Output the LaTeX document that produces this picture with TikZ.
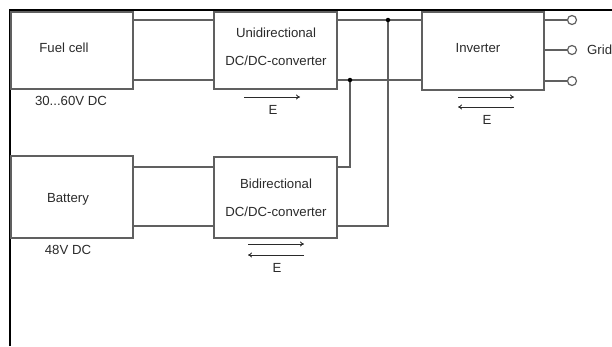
\documentclass[tikz,border=0pt]{standalone}
\usepackage{fontspec}
\setmainfont{Liberation Sans}
\usetikzlibrary{arrows.meta}
\definecolor{boxc}{HTML}{606060}
\definecolor{txtc}{HTML}{2A2A2A}
\tikzset{
  box/.style={draw=boxc, line width=1.5pt, minimum width=#1, inner sep=0pt},
  lbl/.style={text=txtc, font=\fontsize{13.2}{15}\selectfont, inner sep=0pt},
  wire/.style={draw=boxc, line width=1.4pt},
  flow/.style={draw=txtc, line width=0.9pt, -{To[length=4pt,width=5pt]}},
  dotc/.style={circle, fill=black, inner sep=0pt, minimum size=4.5pt},
  term/.style={circle, draw=boxc, line width=1.2pt, fill=white, inner sep=0pt, minimum size=9pt}
}
\begin{document}
\begin{tikzpicture}[x=1pt,y=-1pt]
\useasboundingbox (0,0) rectangle (612,346);
% frame
\draw[line width=1.8pt, black] (10,346) -- (10,10) -- (612,10);
% boxes
\node[box=122pt, minimum height=77pt] (fc) at (72,50.5) {};
\node[box=123pt, minimum height=77pt] (uni) at (275.5,50.5) {};
\node[box=122pt, minimum height=78pt] (inv) at (483,51) {};
\node[box=122pt, minimum height=82pt] (bat) at (72,197) {};
\node[box=123pt, minimum height=81pt] (bid) at (275.5,197.5) {};
% box texts
\node[lbl] (fct) at (64,48) {Fuel cell};
\node[lbl] (unit1) at (276,33) {Unidirectional};
\node[lbl] (unit2) at (276,61) {DC/DC-converter};
\node[lbl] (invt) at (478,48) {Inverter};
\node[lbl] (batt) at (68,199) {Battery};
\node[lbl] (bidt1) at (276,184) {Bidirectional};
\node[lbl] (bidt2) at (276,212) {DC/DC-converter};
\node[lbl] (fcv) at (71,101) {30...60V DC};
\node[lbl] (batv) at (68,250) {48V DC};
% helper rows
\coordinate (ya) at (0,20);
\coordinate (yb) at (0,80);
\coordinate (yc) at (0,167);
\coordinate (yd) at (0,226);
% wires
\draw[wire] (fc.east |- ya) -- (uni.west |- ya);
\draw[wire] (fc.east |- yb) -- (uni.west |- yb);
\draw[wire] (uni.east |- ya) -- (inv.west |- ya);
\draw[wire] (uni.east |- yb) -- (inv.west |- yb);
\draw[wire] (bat.east |- yc) -- (bid.west |- yc);
\draw[wire] (bat.east |- yd) -- (bid.west |- yd);
\coordinate (j1) at (350,80);
\coordinate (j2) at (388,20);
\draw[wire] (j1) |- (bid.east |- yc);
\draw[wire] (j2) |- (bid.east |- yd);
\node[dotc] (d1) at (j1) {};
\node[dotc] (d2) at (j2) {};
% inverter outputs
\node[term] (t1) at (572,20) {};
\node[term] (t2) at (572,50) {};
\node[term] (t3) at (572,81) {};
\draw[wire] (inv.east |- t1) -- (t1.west);
\draw[wire] (inv.east |- t2) -- (t2.west);
\draw[wire] (inv.east |- t3) -- (t3.west);
\node[lbl, anchor=west] (grid) at (587,50) {Grid};
% energy arrows
\coordinate (ua) at (244,97); \coordinate (ub) at (300,97);
\draw[flow] (ua) -- (ub);
\node[lbl] (ue) at (273,110) {E};
\coordinate (ia) at (458,97); \coordinate (ib) at (514,97);
\coordinate (ic) at (514,107); \coordinate (id) at (458,107);
\draw[flow] (ia) -- (ib);
\draw[flow] (ic) -- (id);
\node[lbl] (ie) at (487,120) {E};
\coordinate (ba) at (248,244); \coordinate (bb) at (304,244);
\coordinate (bc) at (304,255); \coordinate (bd) at (248,255);
\draw[flow] (ba) -- (bb);
\draw[flow] (bc) -- (bd);
\node[lbl] (be) at (277,268) {E};
\end{tikzpicture}
\end{document}
